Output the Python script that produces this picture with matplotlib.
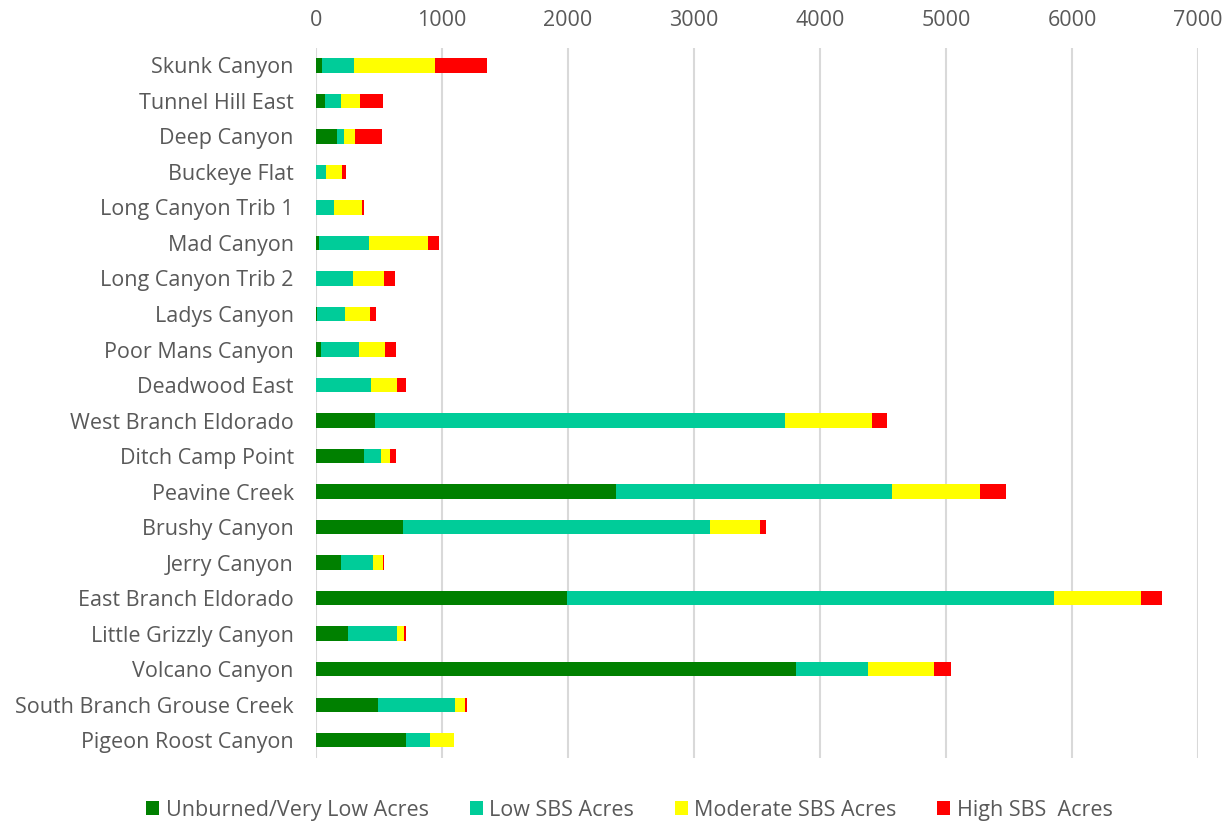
import matplotlib.pyplot as plt
import numpy as np

# categories top to bottom
sites = ['Skunk Canyon', 'Tunnel Hill East', 'Deep Canyon', 'Buckeye Flat',
         'Long Canyon Trib 1', 'Mad Canyon', 'Long Canyon Trib 2', 'Ladys Canyon',
         'Poor Mans Canyon', 'Deadwood East', 'West Branch Eldorado',
         'Ditch Camp Point', 'Peavine Creek', 'Brushy Canyon', 'Jerry Canyon',
         'East Branch Eldorado', 'Little Grizzly Canyon', 'Volcano Canyon',
         'South Branch Grouse Creek', 'Pigeon Roost Canyon']

unburned = [47, 69, 169, 0, 0, 26, 0, 5, 42, 0, 470, 383, 2381, 687, 201, 1993, 256, 3806, 494, 716]
low_sbs = [257, 132, 55, 76, 145, 392, 296, 227, 301, 439, 3250, 135, 2188, 2437, 253, 3863, 389, 577, 608, 190]
mod_sbs = [637, 150, 88, 127, 217, 470, 246, 199, 207, 206, 696, 71, 701, 396, 80, 693, 55, 523, 79, 188]
high_sbs = [415, 178, 214, 35, 18, 85, 84, 42, 87, 71, 114, 45, 209, 50, 5, 166, 16, 130, 16, 0]

series = [
    ('Unburned/Very Low Acres', unburned, '#008000'),
    ('Low SBS Acres', low_sbs, '#00CC99'),
    ('Moderate SBS Acres', mod_sbs, '#FFFF00'),
    ('High SBS  Acres', high_sbs, '#FF0000'),
]

plt.rcParams['font.family'] = ['Open Sans', 'DejaVu Sans']
text_color = '#595959'

fig = plt.figure(figsize=(12.32, 8.22), dpi=100)
ax = fig.add_axes([0.2565, 0.078, 0.716, 0.864])

y = np.arange(len(sites))
left = np.zeros(len(sites))
for label, vals, color in series:
    ax.barh(y, vals, left=left, height=0.4, color=color, label=label, zorder=3)
    left += np.array(vals)

ax.set_yticks(y)
ax.set_yticklabels(sites, fontsize=15.5, color=text_color)
ax.set_ylim(len(sites) - 0.5, -0.5)

ax.set_xlim(0, 7000)
ax.set_xticks(range(0, 7001, 1000))
ax.xaxis.tick_top()
ax.tick_params(axis='x', labelsize=15.5, labelcolor=text_color, length=0, pad=12)
ax.tick_params(axis='y', length=0, pad=16)
ax.grid(axis='x', color='#D9D9D9', linewidth=1.5, zorder=0)
for s in ax.spines.values():
    s.set_visible(False)

fig.legend(loc='lower center', bbox_to_anchor=(0.511, -0.022), ncol=4, frameon=False,
           fontsize=15.5, labelcolor=text_color, handlelength=0.6, handleheight=0.6,
           handletextpad=0.3, columnspacing=1.9)

fig.savefig('out.png', dpi=100)
